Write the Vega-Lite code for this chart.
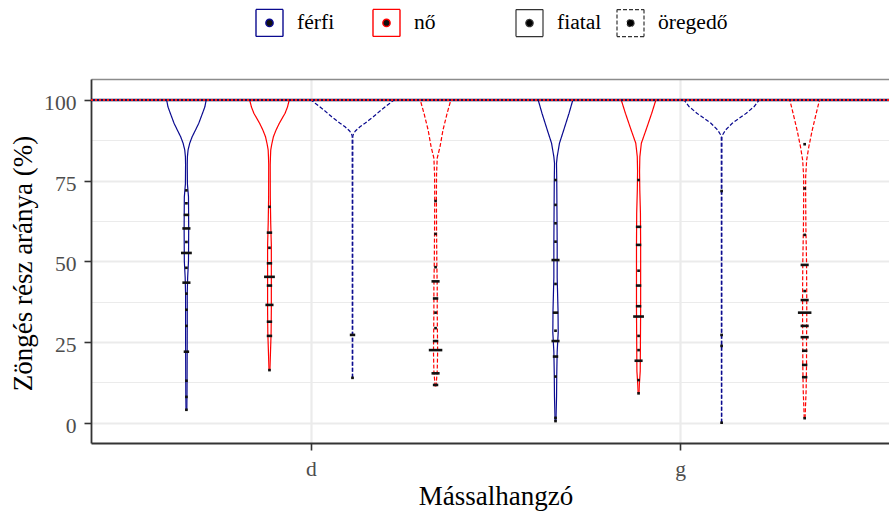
{
  "$schema": "https://vega.github.io/schema/vega-lite/v6.json",
  "autosize": {"type": "none"},
  "width": 798,
  "height": 364,
  "padding": {"left": 91, "top": 79, "right": 0, "bottom": 68},
  "background": "white",
  "datasets": {
    "violin": [
      {"consonant": "d", "sex": "férfi", "age": "fiatal", "value": 100, "density": 0.476},
      {"consonant": "d", "sex": "férfi", "age": "fiatal", "value": 97.9, "density": 0.445},
      {"consonant": "d", "sex": "férfi", "age": "fiatal", "value": 95.9, "density": 0.388},
      {"consonant": "d", "sex": "férfi", "age": "fiatal", "value": 92.8, "density": 0.298},
      {"consonant": "d", "sex": "férfi", "age": "fiatal", "value": 90.7, "density": 0.219},
      {"consonant": "d", "sex": "férfi", "age": "fiatal", "value": 88.6, "density": 0.138},
      {"consonant": "d", "sex": "férfi", "age": "fiatal", "value": 86.6, "density": 0.079},
      {"consonant": "d", "sex": "férfi", "age": "fiatal", "value": 84.5, "density": 0.04},
      {"consonant": "d", "sex": "férfi", "age": "fiatal", "value": 82.4, "density": 0.024},
      {"consonant": "d", "sex": "férfi", "age": "fiatal", "value": 80, "density": 0.02},
      {"consonant": "d", "sex": "férfi", "age": "fiatal", "value": 74, "density": 0.024},
      {"consonant": "d", "sex": "férfi", "age": "fiatal", "value": 70, "density": 0.05},
      {"consonant": "d", "sex": "férfi", "age": "fiatal", "value": 60, "density": 0.055},
      {"consonant": "d", "sex": "férfi", "age": "fiatal", "value": 50, "density": 0.05},
      {"consonant": "d", "sex": "férfi", "age": "fiatal", "value": 45, "density": 0.03},
      {"consonant": "d", "sex": "férfi", "age": "fiatal", "value": 40, "density": 0.02},
      {"consonant": "d", "sex": "férfi", "age": "fiatal", "value": 30, "density": 0.02},
      {"consonant": "d", "sex": "férfi", "age": "fiatal", "value": 20, "density": 0.018},
      {"consonant": "d", "sex": "férfi", "age": "fiatal", "value": 10, "density": 0.015},
      {"consonant": "d", "sex": "férfi", "age": "fiatal", "value": 4, "density": 0.01},

      {"consonant": "d", "sex": "nő", "age": "fiatal", "value": 100, "density": 0.476},
      {"consonant": "d", "sex": "nő", "age": "fiatal", "value": 97.9, "density": 0.436},
      {"consonant": "d", "sex": "nő", "age": "fiatal", "value": 95.9, "density": 0.376},
      {"consonant": "d", "sex": "nő", "age": "fiatal", "value": 92.8, "density": 0.238},
      {"consonant": "d", "sex": "nő", "age": "fiatal", "value": 90.7, "density": 0.159},
      {"consonant": "d", "sex": "nő", "age": "fiatal", "value": 88.6, "density": 0.095},
      {"consonant": "d", "sex": "nő", "age": "fiatal", "value": 86.6, "density": 0.06},
      {"consonant": "d", "sex": "nő", "age": "fiatal", "value": 84.5, "density": 0.031},
      {"consonant": "d", "sex": "nő", "age": "fiatal", "value": 82.4, "density": 0.024},
      {"consonant": "d", "sex": "nő", "age": "fiatal", "value": 80, "density": 0.018},
      {"consonant": "d", "sex": "nő", "age": "fiatal", "value": 70, "density": 0.02},
      {"consonant": "d", "sex": "nő", "age": "fiatal", "value": 62, "density": 0.03},
      {"consonant": "d", "sex": "nő", "age": "fiatal", "value": 55, "density": 0.045},
      {"consonant": "d", "sex": "nő", "age": "fiatal", "value": 45, "density": 0.045},
      {"consonant": "d", "sex": "nő", "age": "fiatal", "value": 35, "density": 0.045},
      {"consonant": "d", "sex": "nő", "age": "fiatal", "value": 28, "density": 0.04},
      {"consonant": "d", "sex": "nő", "age": "fiatal", "value": 22, "density": 0.025},
      {"consonant": "d", "sex": "nő", "age": "fiatal", "value": 18, "density": 0.015},
      {"consonant": "d", "sex": "nő", "age": "fiatal", "value": 16.3, "density": 0.01},

      {"consonant": "d", "sex": "férfi", "age": "öregedő", "value": 100, "density": 1.0},
      {"consonant": "d", "sex": "férfi", "age": "öregedő", "value": 99, "density": 0.9},
      {"consonant": "d", "sex": "férfi", "age": "öregedő", "value": 97.9, "density": 0.79},
      {"consonant": "d", "sex": "férfi", "age": "öregedő", "value": 96.9, "density": 0.69},
      {"consonant": "d", "sex": "férfi", "age": "öregedő", "value": 95.9, "density": 0.6},
      {"consonant": "d", "sex": "férfi", "age": "öregedő", "value": 94.8, "density": 0.5},
      {"consonant": "d", "sex": "férfi", "age": "öregedő", "value": 93.8, "density": 0.4},
      {"consonant": "d", "sex": "férfi", "age": "öregedő", "value": 92.8, "density": 0.3},
      {"consonant": "d", "sex": "férfi", "age": "öregedő", "value": 91.7, "density": 0.18},
      {"consonant": "d", "sex": "férfi", "age": "öregedő", "value": 90.4, "density": 0.07},
      {"consonant": "d", "sex": "férfi", "age": "öregedő", "value": 89.5, "density": 0.024},
      {"consonant": "d", "sex": "férfi", "age": "öregedő", "value": 88.8, "density": 0.008},
      {"consonant": "d", "sex": "férfi", "age": "öregedő", "value": 70, "density": 0.006},
      {"consonant": "d", "sex": "férfi", "age": "öregedő", "value": 40, "density": 0.006},
      {"consonant": "d", "sex": "férfi", "age": "öregedő", "value": 20, "density": 0.006},
      {"consonant": "d", "sex": "férfi", "age": "öregedő", "value": 13.9, "density": 0.004},

      {"consonant": "d", "sex": "nő", "age": "öregedő", "value": 100, "density": 0.369},
      {"consonant": "d", "sex": "nő", "age": "öregedő", "value": 95.9, "density": 0.279},
      {"consonant": "d", "sex": "nő", "age": "öregedő", "value": 90.7, "density": 0.179},
      {"consonant": "d", "sex": "nő", "age": "öregedő", "value": 85.5, "density": 0.107},
      {"consonant": "d", "sex": "nő", "age": "öregedő", "value": 82, "density": 0.04},
      {"consonant": "d", "sex": "nő", "age": "öregedő", "value": 77, "density": 0.024},
      {"consonant": "d", "sex": "nő", "age": "öregedő", "value": 70, "density": 0.02},
      {"consonant": "d", "sex": "nő", "age": "öregedő", "value": 60, "density": 0.024},
      {"consonant": "d", "sex": "nő", "age": "öregedő", "value": 50, "density": 0.03},
      {"consonant": "d", "sex": "nő", "age": "öregedő", "value": 42, "density": 0.04},
      {"consonant": "d", "sex": "nő", "age": "öregedő", "value": 35, "density": 0.04},
      {"consonant": "d", "sex": "nő", "age": "öregedő", "value": 28, "density": 0.045},
      {"consonant": "d", "sex": "nő", "age": "öregedő", "value": 22, "density": 0.05},
      {"consonant": "d", "sex": "nő", "age": "öregedő", "value": 16, "density": 0.04},
      {"consonant": "d", "sex": "nő", "age": "öregedő", "value": 11.2, "density": 0.01},

      {"consonant": "g", "sex": "férfi", "age": "fiatal", "value": 100, "density": 0.417},
      {"consonant": "g", "sex": "férfi", "age": "fiatal", "value": 95.9, "density": 0.326},
      {"consonant": "g", "sex": "férfi", "age": "fiatal", "value": 90.7, "density": 0.198},
      {"consonant": "g", "sex": "férfi", "age": "fiatal", "value": 86.6, "density": 0.095},
      {"consonant": "g", "sex": "férfi", "age": "fiatal", "value": 82.4, "density": 0.04},
      {"consonant": "g", "sex": "férfi", "age": "fiatal", "value": 80.4, "density": 0.024},
      {"consonant": "g", "sex": "férfi", "age": "fiatal", "value": 75, "density": 0.03},
      {"consonant": "g", "sex": "férfi", "age": "fiatal", "value": 65, "density": 0.035},
      {"consonant": "g", "sex": "férfi", "age": "fiatal", "value": 55, "density": 0.04},
      {"consonant": "g", "sex": "férfi", "age": "fiatal", "value": 45, "density": 0.04},
      {"consonant": "g", "sex": "férfi", "age": "fiatal", "value": 35, "density": 0.06},
      {"consonant": "g", "sex": "férfi", "age": "fiatal", "value": 28, "density": 0.065},
      {"consonant": "g", "sex": "férfi", "age": "fiatal", "value": 22, "density": 0.04},
      {"consonant": "g", "sex": "férfi", "age": "fiatal", "value": 15, "density": 0.03},
      {"consonant": "g", "sex": "férfi", "age": "fiatal", "value": 8, "density": 0.025},
      {"consonant": "g", "sex": "férfi", "age": "fiatal", "value": 0.5, "density": 0.01},

      {"consonant": "g", "sex": "nő", "age": "fiatal", "value": 100, "density": 0.417},
      {"consonant": "g", "sex": "nő", "age": "fiatal", "value": 95.9, "density": 0.317},
      {"consonant": "g", "sex": "nő", "age": "fiatal", "value": 90.7, "density": 0.179},
      {"consonant": "g", "sex": "nő", "age": "fiatal", "value": 86.6, "density": 0.067},
      {"consonant": "g", "sex": "nő", "age": "fiatal", "value": 82.4, "density": 0.031},
      {"consonant": "g", "sex": "nő", "age": "fiatal", "value": 78, "density": 0.024},
      {"consonant": "g", "sex": "nő", "age": "fiatal", "value": 72, "density": 0.03},
      {"consonant": "g", "sex": "nő", "age": "fiatal", "value": 65, "density": 0.045},
      {"consonant": "g", "sex": "nő", "age": "fiatal", "value": 55, "density": 0.05},
      {"consonant": "g", "sex": "nő", "age": "fiatal", "value": 45, "density": 0.05},
      {"consonant": "g", "sex": "nő", "age": "fiatal", "value": 35, "density": 0.05},
      {"consonant": "g", "sex": "nő", "age": "fiatal", "value": 25, "density": 0.045},
      {"consonant": "g", "sex": "nő", "age": "fiatal", "value": 16, "density": 0.04},
      {"consonant": "g", "sex": "nő", "age": "fiatal", "value": 12, "density": 0.02},
      {"consonant": "g", "sex": "nő", "age": "fiatal", "value": 9.1, "density": 0.01},

      {"consonant": "g", "sex": "férfi", "age": "öregedő", "value": 100, "density": 0.905},
      {"consonant": "g", "sex": "férfi", "age": "öregedő", "value": 98, "density": 0.786},
      {"consonant": "g", "sex": "férfi", "age": "öregedő", "value": 95.9, "density": 0.595},
      {"consonant": "g", "sex": "férfi", "age": "öregedő", "value": 92.8, "density": 0.257},
      {"consonant": "g", "sex": "férfi", "age": "öregedő", "value": 90.7, "density": 0.095},
      {"consonant": "g", "sex": "férfi", "age": "öregedő", "value": 89.2, "density": 0.024},
      {"consonant": "g", "sex": "férfi", "age": "öregedő", "value": 88.5, "density": 0.008},
      {"consonant": "g", "sex": "férfi", "age": "öregedő", "value": 60, "density": 0.006},
      {"consonant": "g", "sex": "férfi", "age": "öregedő", "value": 30, "density": 0.006},
      {"consonant": "g", "sex": "férfi", "age": "öregedő", "value": 0, "density": 0.004},

      {"consonant": "g", "sex": "nő", "age": "öregedő", "value": 100, "density": 0.357},
      {"consonant": "g", "sex": "nő", "age": "öregedő", "value": 95.9, "density": 0.279},
      {"consonant": "g", "sex": "nő", "age": "öregedő", "value": 90.7, "density": 0.183},
      {"consonant": "g", "sex": "nő", "age": "öregedő", "value": 85.5, "density": 0.1},
      {"consonant": "g", "sex": "nő", "age": "öregedő", "value": 81.4, "density": 0.048},
      {"consonant": "g", "sex": "nő", "age": "öregedő", "value": 76.2, "density": 0.024},
      {"consonant": "g", "sex": "nő", "age": "öregedő", "value": 70, "density": 0.024},
      {"consonant": "g", "sex": "nő", "age": "öregedő", "value": 60, "density": 0.03},
      {"consonant": "g", "sex": "nő", "age": "öregedő", "value": 50, "density": 0.045},
      {"consonant": "g", "sex": "nő", "age": "öregedő", "value": 40, "density": 0.05},
      {"consonant": "g", "sex": "nő", "age": "öregedő", "value": 32, "density": 0.05},
      {"consonant": "g", "sex": "nő", "age": "öregedő", "value": 25, "density": 0.045},
      {"consonant": "g", "sex": "nő", "age": "öregedő", "value": 18, "density": 0.045},
      {"consonant": "g", "sex": "nő", "age": "öregedő", "value": 10, "density": 0.035},
      {"consonant": "g", "sex": "nő", "age": "öregedő", "value": 5, "density": 0.02},
      {"consonant": "g", "sex": "nő", "age": "öregedő", "value": 1.4, "density": 0.01}
    ],
    "dots": [
      {"consonant": "d", "sex": "férfi", "age": "fiatal", "value": 72, "count": 1},
      {"consonant": "d", "sex": "férfi", "age": "fiatal", "value": 68, "count": 1},
      {"consonant": "d", "sex": "férfi", "age": "fiatal", "value": 64.4, "count": 2},
      {"consonant": "d", "sex": "férfi", "age": "fiatal", "value": 60.2, "count": 3},
      {"consonant": "d", "sex": "férfi", "age": "fiatal", "value": 56, "count": 1},
      {"consonant": "d", "sex": "férfi", "age": "fiatal", "value": 52.6, "count": 4},
      {"consonant": "d", "sex": "férfi", "age": "fiatal", "value": 48, "count": 1},
      {"consonant": "d", "sex": "férfi", "age": "fiatal", "value": 43.4, "count": 3},
      {"consonant": "d", "sex": "férfi", "age": "fiatal", "value": 40, "count": 1},
      {"consonant": "d", "sex": "férfi", "age": "fiatal", "value": 35, "count": 1},
      {"consonant": "d", "sex": "férfi", "age": "fiatal", "value": 30, "count": 1},
      {"consonant": "d", "sex": "férfi", "age": "fiatal", "value": 22, "count": 2},
      {"consonant": "d", "sex": "férfi", "age": "fiatal", "value": 13, "count": 1},
      {"consonant": "d", "sex": "férfi", "age": "fiatal", "value": 8, "count": 1},
      {"consonant": "d", "sex": "férfi", "age": "fiatal", "value": 4, "count": 1},

      {"consonant": "d", "sex": "nő", "age": "fiatal", "value": 66.9, "count": 1},
      {"consonant": "d", "sex": "nő", "age": "fiatal", "value": 58.9, "count": 2},
      {"consonant": "d", "sex": "nő", "age": "fiatal", "value": 54.2, "count": 1},
      {"consonant": "d", "sex": "nő", "age": "fiatal", "value": 49.4, "count": 2},
      {"consonant": "d", "sex": "nő", "age": "fiatal", "value": 45.2, "count": 4},
      {"consonant": "d", "sex": "nő", "age": "fiatal", "value": 42.5, "count": 2},
      {"consonant": "d", "sex": "nő", "age": "fiatal", "value": 36.5, "count": 3},
      {"consonant": "d", "sex": "nő", "age": "fiatal", "value": 31.3, "count": 2},
      {"consonant": "d", "sex": "nő", "age": "fiatal", "value": 26.9, "count": 2},
      {"consonant": "d", "sex": "nő", "age": "fiatal", "value": 16.3, "count": 1},

      {"consonant": "d", "sex": "férfi", "age": "öregedő", "value": 27.2, "count": 2},
      {"consonant": "d", "sex": "férfi", "age": "öregedő", "value": 13.9, "count": 1},

      {"consonant": "d", "sex": "nő", "age": "öregedő", "value": 68.7, "count": 1},
      {"consonant": "d", "sex": "nő", "age": "öregedő", "value": 58.5, "count": 1},
      {"consonant": "d", "sex": "nő", "age": "öregedő", "value": 48.2, "count": 1},
      {"consonant": "d", "sex": "nő", "age": "öregedő", "value": 43.8, "count": 3},
      {"consonant": "d", "sex": "nő", "age": "öregedő", "value": 38.5, "count": 2},
      {"consonant": "d", "sex": "nő", "age": "öregedő", "value": 34.1, "count": 1},
      {"consonant": "d", "sex": "nő", "age": "öregedő", "value": 29.3, "count": 1},
      {"consonant": "d", "sex": "nő", "age": "öregedő", "value": 25.3, "count": 2},
      {"consonant": "d", "sex": "nő", "age": "öregedő", "value": 22.5, "count": 5},
      {"consonant": "d", "sex": "nő", "age": "öregedő", "value": 15.3, "count": 3},
      {"consonant": "d", "sex": "nő", "age": "öregedő", "value": 11.7, "count": 2},

      {"consonant": "g", "sex": "férfi", "age": "fiatal", "value": 75.2, "count": 1},
      {"consonant": "g", "sex": "férfi", "age": "fiatal", "value": 67.5, "count": 1},
      {"consonant": "g", "sex": "férfi", "age": "fiatal", "value": 61.8, "count": 1},
      {"consonant": "g", "sex": "férfi", "age": "fiatal", "value": 56.1, "count": 1},
      {"consonant": "g", "sex": "férfi", "age": "fiatal", "value": 50.4, "count": 3},
      {"consonant": "g", "sex": "férfi", "age": "fiatal", "value": 43, "count": 1},
      {"consonant": "g", "sex": "férfi", "age": "fiatal", "value": 34.1, "count": 2},
      {"consonant": "g", "sex": "férfi", "age": "fiatal", "value": 28.5, "count": 1},
      {"consonant": "g", "sex": "férfi", "age": "fiatal", "value": 25.3, "count": 3},
      {"consonant": "g", "sex": "férfi", "age": "fiatal", "value": 20.5, "count": 2},
      {"consonant": "g", "sex": "férfi", "age": "fiatal", "value": 14.3, "count": 1},
      {"consonant": "g", "sex": "férfi", "age": "fiatal", "value": 1.5, "count": 1},
      {"consonant": "g", "sex": "férfi", "age": "fiatal", "value": 0.5, "count": 1},

      {"consonant": "g", "sex": "nő", "age": "fiatal", "value": 75.2, "count": 1},
      {"consonant": "g", "sex": "nő", "age": "fiatal", "value": 60.7, "count": 2},
      {"consonant": "g", "sex": "nő", "age": "fiatal", "value": 55.1, "count": 2},
      {"consonant": "g", "sex": "nő", "age": "fiatal", "value": 47.1, "count": 1},
      {"consonant": "g", "sex": "nő", "age": "fiatal", "value": 42.5, "count": 2},
      {"consonant": "g", "sex": "nő", "age": "fiatal", "value": 36.1, "count": 2},
      {"consonant": "g", "sex": "nő", "age": "fiatal", "value": 32.9, "count": 4},
      {"consonant": "g", "sex": "nő", "age": "fiatal", "value": 26.9, "count": 1},
      {"consonant": "g", "sex": "nő", "age": "fiatal", "value": 22.5, "count": 1},
      {"consonant": "g", "sex": "nő", "age": "fiatal", "value": 19.2, "count": 3},
      {"consonant": "g", "sex": "nő", "age": "fiatal", "value": 13.2, "count": 1},
      {"consonant": "g", "sex": "nő", "age": "fiatal", "value": 9.1, "count": 1},

      {"consonant": "g", "sex": "férfi", "age": "öregedő", "value": 71.8, "count": 1},
      {"consonant": "g", "sex": "férfi", "age": "öregedő", "value": 27.2, "count": 1},
      {"consonant": "g", "sex": "férfi", "age": "öregedő", "value": 23.8, "count": 1},
      {"consonant": "g", "sex": "férfi", "age": "öregedő", "value": 0, "count": 1},

      {"consonant": "g", "sex": "nő", "age": "öregedő", "value": 86.3, "count": 1},
      {"consonant": "g", "sex": "nő", "age": "öregedő", "value": 72.6, "count": 1},
      {"consonant": "g", "sex": "nő", "age": "öregedő", "value": 58.2, "count": 1},
      {"consonant": "g", "sex": "nő", "age": "öregedő", "value": 48.9, "count": 3},
      {"consonant": "g", "sex": "nő", "age": "öregedő", "value": 40.8, "count": 1},
      {"consonant": "g", "sex": "nő", "age": "öregedő", "value": 38, "count": 3},
      {"consonant": "g", "sex": "nő", "age": "öregedő", "value": 34.1, "count": 5},
      {"consonant": "g", "sex": "nő", "age": "öregedő", "value": 30, "count": 3},
      {"consonant": "g", "sex": "nő", "age": "öregedő", "value": 26.5, "count": 3},
      {"consonant": "g", "sex": "nő", "age": "öregedő", "value": 22.3, "count": 2},
      {"consonant": "g", "sex": "nő", "age": "öregedő", "value": 17.9, "count": 2},
      {"consonant": "g", "sex": "nő", "age": "öregedő", "value": 14.1, "count": 2},
      {"consonant": "g", "sex": "nő", "age": "öregedő", "value": 1.4, "count": 1}
    ],
    "full": [
      {"value": 100}
    ]
  },
  "encoding": {
    "y": {
      "field": "value", "type": "quantitative",
      "scale": {"domain": [-6.29, 106.51], "nice": false, "zero": false},
      "axis": {
        "values": [0, 12.5, 25, 37.5, 50, 62.5, 75, 87.5, 100],
        "labelExpr": "datum.value % 25 === 0 ? datum.label : ''",
        "tickOpacity": {"condition": {"test": "datum.value % 25 === 0", "value": 1}, "value": 0},
        "grid": true, "gridColor": "#EBEBEB",
        "gridWidth": {"condition": {"test": "datum.value % 25 === 0", "value": 2}, "value": 1},
        "labelFont": "Liberation Serif", "labelFontSize": 21.6,
        "labelPadding": 8, "labelBaseline": "alphabetic", "labelOffset": 9.5,
        "title": "Zöngés rész aránya (%)",
        "titleFont": "Liberation Serif", "titleFontSize": 27, "titleFontWeight": "normal", "titleFontStyle": "normal",
        "titleAngle": 270, "titleX": -59.5, "titleY": 184, "titleBaseline": "alphabetic", "titleAlign": "center"
      }
    }
  },
  "resolve": {"axis": {"x": "independent"}},
  "layer": [
    {
      "data": {"name": "violin"},
      "transform": [
        {"calculate": "(datum.consonant === 'd' ? 0 : 1) + ((datum.age === 'öregedő' ? 2 : 0) + (datum.sex === 'nő' ? 1 : 0) - 1.5) * 0.225", "as": "center"},
        {"calculate": "datum.center - datum.density * 0.1125", "as": "left"},
        {"calculate": "datum.center + datum.density * 0.1125", "as": "right"},
        {"fold": ["left", "right"], "as": ["side", "outline"]}
      ],
      "mark": {"type": "line", "strokeWidth": 1.2, "interpolate": "linear"},
      "encoding": {
        "x": {
          "field": "outline", "type": "quantitative",
          "scale": {"domain": [-0.596, 1.566], "nice": false, "zero": false},
          "axis": {
            "orient": "bottom",
            "values": [0, 1],
            "labelExpr": "datum.value === 0 ? 'd' : 'g'",
            "labelFont": "Liberation Serif", "labelFontSize": 21.6,
            "title": "Mássalhangzó",
            "titleFont": "Liberation Serif", "titleFontSize": 27, "titleFontWeight": "normal",
            "grid": true, "gridColor": "#EBEBEB", "gridWidth": 2.2,
            "labelBaseline": "alphabetic", "labelPadding": 25,
            "titleX": 404.5, "titleY": 61, "titleBaseline": "alphabetic"
          }
        },
        "order": {"field": "value", "type": "quantitative"},
        "detail": [{"field": "consonant"}, {"field": "side"}],
        "stroke": {
          "field": "sex", "type": "nominal",
          "scale": {"domain": ["férfi", "nő"], "range": ["#0a0a8f", "#ff0000"]},
          "legend": {
            "orient": "none", "legendX": 164, "legendY": -70.7, "direction": "horizontal",
            "title": null, "padding": 0, "columnPadding": 35,
            "symbolType": "M-1,-1L1,-1M1,-1L1,1M1,1L-1,1M-1,1L-1,-1M0.27,0A0.27,0.27,0,1,1,-0.27,0A0.27,0.27,0,1,1,0.27,0Z",
            "symbolSize": 729, "symbolStrokeWidth": 1.4,
            "symbolFillColor": "#111111", "symbolOpacity": 1,
            "labelFont": "Liberation Serif", "labelFontSize": 21.6, "labelColor": "#000000",
            "labelOffset": 13,
            "encode": {"symbols": {"update": {"fill": {"value": "#111111"}, "fillOpacity": {"value": 1}, "opacity": {"value": 1}}}}
          }
        },
        "strokeDash": {
          "field": "age", "type": "nominal",
          "scale": {"domain": ["fiatal", "öregedő"], "range": [[1, 0], [4, 2]]},
          "legend": {
            "orient": "none", "legendX": 424, "legendY": -70.7, "direction": "horizontal",
            "title": null, "padding": 0, "columnPadding": 12,
            "symbolType": "M-1,-1L1,-1M1,-1L1,1M1,1L-1,1M-1,1L-1,-1M0.27,0A0.27,0.27,0,1,1,-0.27,0A0.27,0.27,0,1,1,0.27,0Z",
            "symbolSize": 729, "symbolStrokeWidth": 1.2,
            "symbolFillColor": "#000000", "symbolStrokeColor": "#333333", "symbolOpacity": 1,
            "labelFont": "Liberation Serif", "labelFontSize": 21.6, "labelColor": "#000000",
            "labelOffset": 13,
            "encode": {"symbols": {"update": {"fill": {"value": "#000000"}, "fillOpacity": {"value": 1}, "stroke": {"value": "#333333"}, "opacity": {"value": 1}}}}
          }
        }
      }
    },
    {
      "data": {"name": "dots"},
      "transform": [
        {"calculate": "(datum.consonant === 'd' ? 0 : 1) + ((datum.age === 'öregedő' ? 2 : 0) + (datum.sex === 'nő' ? 1 : 0) - 1.5) * 0.225", "as": "center"},
        {"calculate": "datum.center - datum.count * 0.00366", "as": "left"},
        {"calculate": "datum.center + datum.count * 0.00366", "as": "right"}
      ],
      "mark": {"type": "rule", "color": "#111111", "strokeWidth": 2.6, "strokeCap": "butt"},
      "encoding": {
        "x": {
          "field": "left", "type": "quantitative",
          "axis": {"orient": "top", "labels": false, "ticks": false, "grid": false, "title": null, "domainColor": "#8C8C8C", "domainWidth": 1.4}
        },
        "x2": {"field": "right"}
      }
    },
    {
      "data": {"name": "full"},
      "mark": {"type": "rule", "color": "#14145a", "strokeWidth": 2.6},
      "encoding": {}
    },
    {
      "data": {"name": "full"},
      "mark": {"type": "rule", "color": "#ff1a1a", "strokeWidth": 2.2, "strokeDash": [2, 2]},
      "encoding": {}
    }
  ],
  "config": {
    "view": {"stroke": null},
    "font": "Liberation Serif",
    "style": {
      "guide-title": {"font": "Liberation Serif", "fontSize": 27, "fontWeight": "normal"},
      "guide-label": {"font": "Liberation Serif"}
    },
    "axis": {
      "labelFont": "Liberation Serif", "labelFontSize": 21.6, "labelColor": "#4D4D4D",
      "titleFont": "Liberation Serif", "titleFontSize": 27, "titleColor": "#000000", "titleFontWeight": "normal",
      "tickColor": "#333333", "tickWidth": 1.6, "tickSize": 7,
      "domainColor": "#333333", "domainWidth": 1.8
    },
    "axisY": {"titleFont": "Liberation Serif", "titleFontSize": 27},
    "legend": {
      "labelFont": "Liberation Serif", "labelFontSize": 21.6, "labelColor": "#000000"
    }
  }
}
